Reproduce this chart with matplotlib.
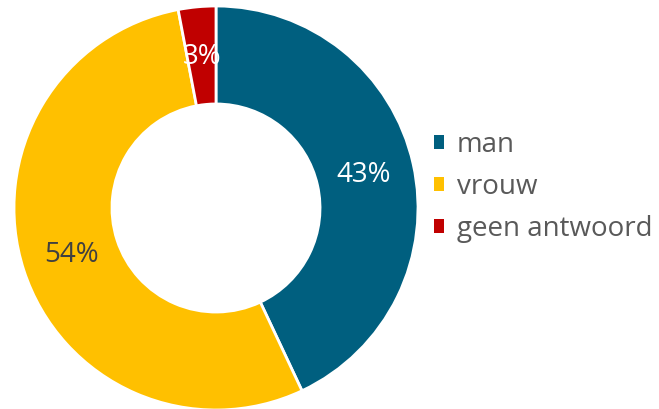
import matplotlib
matplotlib.use("Agg")
import matplotlib.pyplot as plt
from matplotlib.patches import Patch
import numpy as np

categories = ["man", "vrouw", "geen antwoord"]
values = [43, 54, 3]
labels_pct = ["43%", "54%", "3%"]
colors = ["#005F7F", "#FFC000", "#C00000"]
label_colors = ["white", "#404040", "white"]

plt.rcParams['font.family'] = ['Open Sans', 'DejaVu Sans']

fig = plt.figure(figsize=(6.59, 4.09), dpi=100)
ax = fig.add_axes([14/659, (409-410)/409, 404/659, 404/409])
wedges, _ = ax.pie(values, startangle=90, counterclock=False, colors=colors,
                   radius=1.0, wedgeprops=dict(width=0.485, edgecolor='white', linewidth=2))
for w, lab, c in zip(wedges, labels_pct, label_colors):
    ang = np.deg2rad((w.theta1 + w.theta2) / 2)
    r = 0.75
    ax.text(r*np.cos(ang), r*np.sin(ang), lab, ha='center', va='center',
            fontsize=20, color=c)
ax.set_xlim(-1, 1)
ax.set_ylim(-1, 1)
ax.set_aspect('equal')
ax.axis('off')

handles = [Patch(facecolor=c, edgecolor='none') for c in colors]
leg = fig.legend(handles, categories, loc='center left', bbox_to_anchor=(434/659, 1 - 187/409),
                 frameon=False, fontsize=20, handlelength=0.37, handleheight=0.37,
                 handletextpad=0.45, labelspacing=0.5, borderpad=0, borderaxespad=0,
                 labelcolor='#595959')
fig.savefig("out.png", dpi=100)
